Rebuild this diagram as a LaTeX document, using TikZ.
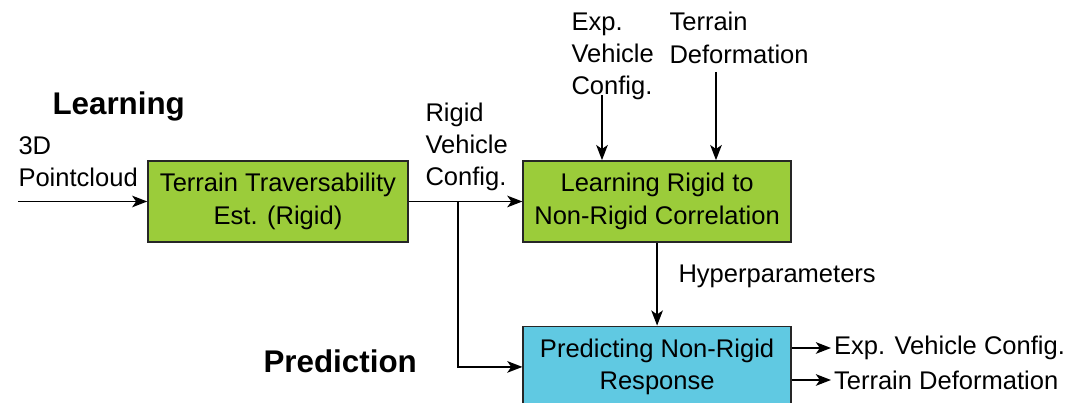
\documentclass[tikz,border=0pt]{standalone}
\usepackage{fontspec}
\setmainfont{Liberation Sans}
\usetikzlibrary{arrows.meta, positioning}
\definecolor{learngreen}{RGB}{155,204,58}
\definecolor{predblue}{RGB}{96,201,226}
\tikzset{
  box/.style={draw=black!85, line width=0.7pt, fill=#1, minimum height=1.125cm, align=center, inner sep=2pt},
  arr/.style={-{Stealth[length=6pt, width=4.6pt, inset=1.6pt]}, line width=0.6pt},
  lbl/.style={align=left, inner sep=0pt, anchor=north west},
  phase/.style={font=\fontsize{12.4pt}{15pt}\selectfont\bfseries, inner sep=0pt, anchor=north west},
}
\begin{document}
\begin{tikzpicture}[x=0.0139cm, y=-0.0139cm, font=\fontsize{10.1pt}{12.8pt}\selectfont]
  \useasboundingbox (0,0) rectangle (1066,403);
  \clip (0,0) rectangle (1066,403);

  % blocks
  \node[box=learngreen, minimum width=3.61cm] (trav) at (278,201.5) {Terrain Traversability\\Est. (Rigid)};
  \node[box=learngreen, minimum width=3.72cm, right=1.58cm of trav] (corr) {Learning Rigid to\\Non-Rigid Correlation};
  \node[box=predblue, minimum width=3.72cm, below=1.15cm of corr] (pred) {Predicting Non-Rigid\\Response};

  % phase titles
  \node[phase] (learn) at (52,91) {Learning};
  \node[phase] (predict) at (263,349) {Prediction};

  % inputs and labels
  \coordinate (cloud) at (18,201.5);
  \node[lbl] (cloudlbl) at (18,136) {3D\\Pointcloud};
  \node[lbl] (rigidlbl) at (425,102) {Rigid\\Vehicle\\Config.};
  \node[lbl] (explbl) at (571,12) {Exp.\\Vehicle\\Config.};
  \node[lbl] (deflbl) at (669,12) {Terrain\\Deformation};
  \node[lbl] (hyperlbl) at (678,264) {Hyperparameters};
  \coordinate (expsrc) at (602,95);
  \coordinate (defsrc) at (716,72);
  \coordinate (split) at (458,201.5);
  \coordinate (outa) at (831,348);
  \coordinate (outb) at (831,380);
  \node[anchor=west, inner sep=1pt] (outcfg) at (outa) {Exp. Vehicle Config.};
  \node[anchor=west, inner sep=1pt] (outdef) at (outb) {Terrain Deformation};

  % connectors
  \draw[arr] (cloud) -- (trav);
  \draw[arr] (trav) -- (corr);
  \draw[arr] (split) |- (pred.west);
  \draw[arr] (expsrc) -- (expsrc |- corr.north);
  \draw[arr] (defsrc) -- (defsrc |- corr.north);
  \draw[arr] (corr) -- (pred);
  \draw[arr] (outa -| pred.east) -- (outcfg.west);
  \draw[arr] (outb -| pred.east) -- (outdef.west);
\end{tikzpicture}
\end{document}
